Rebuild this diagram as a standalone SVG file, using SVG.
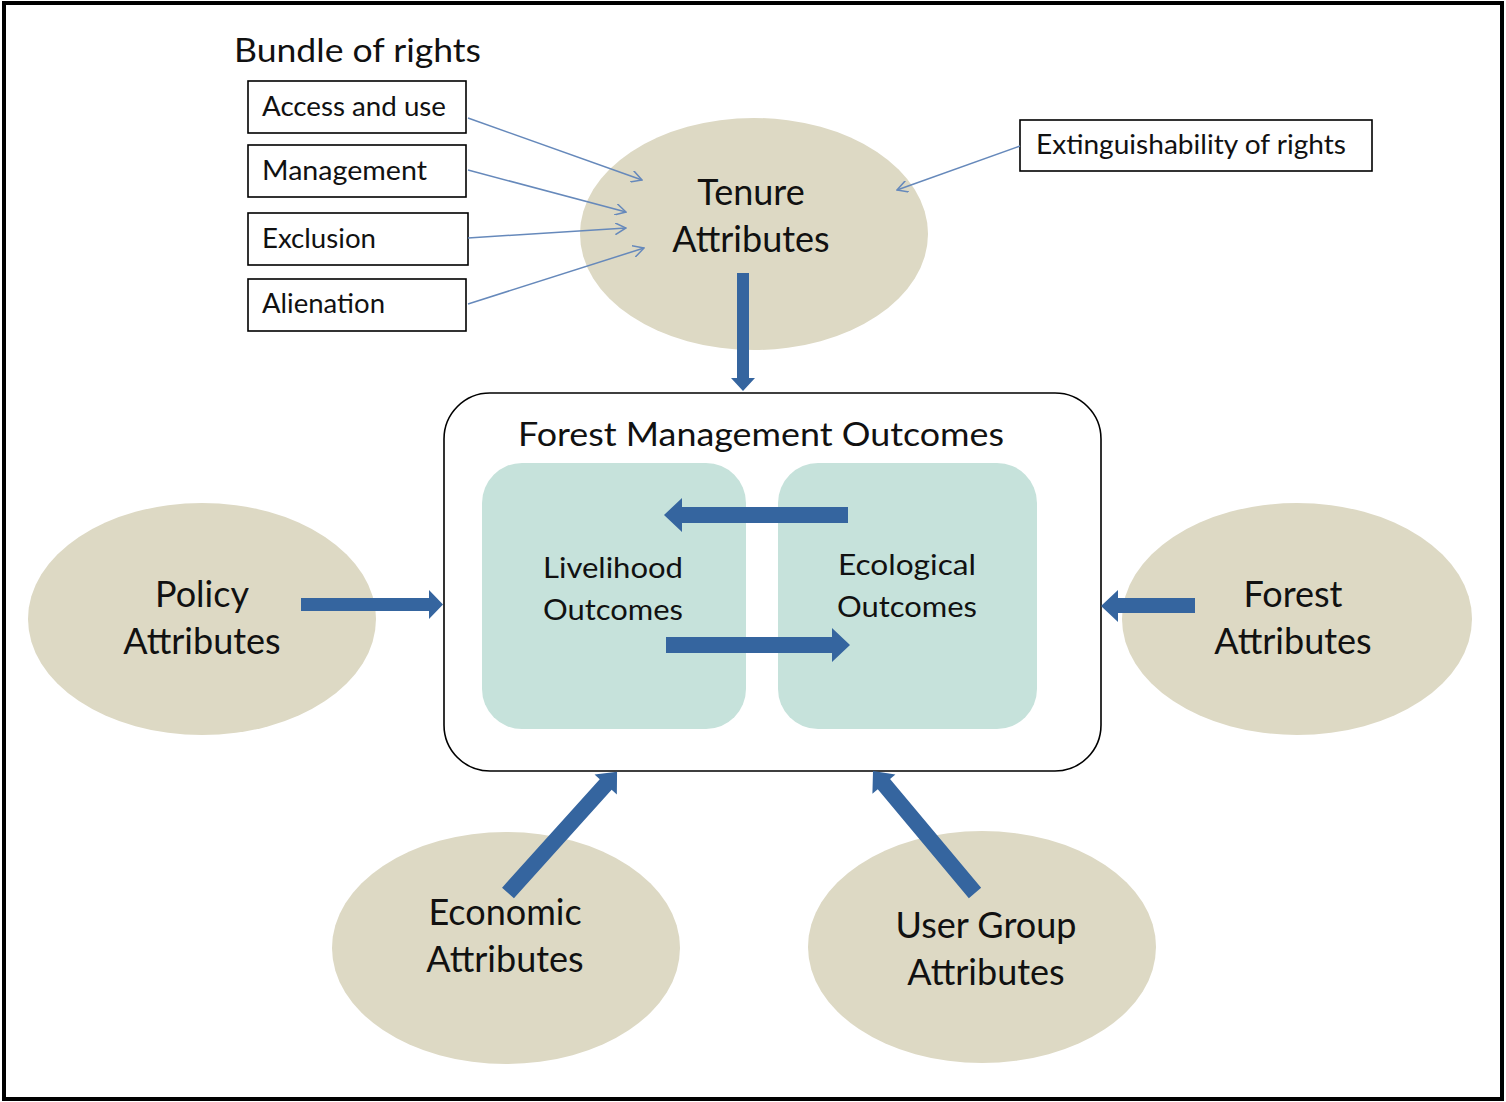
<svg xmlns="http://www.w3.org/2000/svg" width="1506" height="1102" viewBox="0 0 1506 1102">
<style>
text { font-family: Lato, "Open Sans", "Liberation Sans", sans-serif; fill: #111; }
.ell { fill: #ddd9c4; }
.big { font-size: 36px; }
.box { fill: #fff; stroke: #000; stroke-width: 1.6; }
.boxt { font-size: 27px; }
.inner { fill: #c6e2db; }
.mid { font-size: 29px; }
.blk { fill: #35659f; }
.thin { stroke: #6689bb; stroke-width: 1.5; fill: none; marker-end: url(#open); }
</style>
<defs>
<marker id="open" viewBox="0 0 12 12" refX="11" refY="6" markerWidth="12" markerHeight="12" markerUnits="userSpaceOnUse" orient="auto">
<path d="M0,0 L11,6 L0,12" fill="none" stroke="#6689bb" stroke-width="1.5"/>
</marker>
</defs>
<rect x="0" y="0" width="1506" height="1102" fill="#fff"/>
<rect x="4" y="3" width="1498" height="1096" fill="none" stroke="#000" stroke-width="4"/>

<text x="234" y="62" style="font-size:33px" textLength="247" lengthAdjust="spacingAndGlyphs">Bundle of rights</text>

<g id="access"><rect class="box" x="248" y="81" width="218" height="52"/><text class="boxt" x="262" y="116" textLength="184" lengthAdjust="spacingAndGlyphs">Access and use</text></g>
<g id="management"><rect class="box" x="248" y="145" width="218" height="52"/><text class="boxt" x="262" y="180" textLength="165" lengthAdjust="spacingAndGlyphs">Management</text></g>
<g id="exclusion"><rect class="box" x="248" y="213" width="220" height="52"/><text class="boxt" x="262" y="248" textLength="114" lengthAdjust="spacingAndGlyphs">Exclusion</text></g>
<g id="alienation"><rect class="box" x="248" y="279" width="218" height="52"/><text class="boxt" x="262" y="313" textLength="123" lengthAdjust="spacingAndGlyphs">Alienation</text></g>
<g id="extinguish"><rect class="box" x="1020" y="120" width="352" height="51"/><text class="boxt" x="1036" y="154" textLength="310" lengthAdjust="spacingAndGlyphs">Extinguishability of rights</text></g>

<g id="tenure"><ellipse class="ell" cx="754" cy="234" rx="174" ry="116"/>
<text class="big" x="751" y="205" text-anchor="middle">Tenure</text>
<text class="big" x="751" y="252" text-anchor="middle">Attributes</text></g>

<g id="policy"><ellipse class="ell" cx="202" cy="619" rx="174" ry="116"/>
<text class="big" x="202" y="607" text-anchor="middle">Policy</text>
<text class="big" x="202" y="654" text-anchor="middle">Attributes</text></g>

<g id="forest"><ellipse class="ell" cx="1297" cy="619" rx="175" ry="116"/>
<text class="big" x="1293" y="607" text-anchor="middle">Forest</text>
<text class="big" x="1293" y="654" text-anchor="middle">Attributes</text></g>

<g id="economic"><ellipse class="ell" cx="506" cy="948" rx="174" ry="116"/>
<text class="big" x="505" y="925" text-anchor="middle">Economic</text>
<text class="big" x="505" y="972" text-anchor="middle">Attributes</text></g>

<g id="usergroup"><ellipse class="ell" cx="982" cy="947" rx="174" ry="116"/>
<text class="big" x="986" y="938" text-anchor="middle">User Group</text>
<text class="big" x="986" y="985" text-anchor="middle">Attributes</text></g>

<g id="outcomes"><rect x="444" y="393" width="657" height="378" rx="46" fill="#fff" stroke="#000" stroke-width="1.6"/>
<text x="518" y="446" style="font-size:32px" textLength="486" lengthAdjust="spacingAndGlyphs">Forest Management Outcomes</text></g>

<g id="livelihood"><rect class="inner" x="482" y="463" width="264" height="266" rx="40"/>
<text class="mid" x="543" y="578" textLength="140" lengthAdjust="spacingAndGlyphs">Livelihood</text>
<text class="mid" x="543" y="620" textLength="140" lengthAdjust="spacingAndGlyphs">Outcomes</text></g>

<g id="ecological"><rect class="inner" x="778" y="463" width="259" height="266" rx="40"/>
<text class="mid" x="838" y="575" textLength="138" lengthAdjust="spacingAndGlyphs">Ecological</text>
<text class="mid" x="837" y="617" textLength="140" lengthAdjust="spacingAndGlyphs">Outcomes</text></g>

<g id="connectors">
<line class="thin" x1="468" y1="118" x2="642" y2="180"/>
<line class="thin" x1="468" y1="170" x2="626" y2="212"/>
<line class="thin" x1="468" y1="238" x2="626" y2="228"/>
<line class="thin" x1="468" y1="304" x2="644" y2="248"/>
<line class="thin" x1="1020" y1="146" x2="897" y2="190"/>

<polygon class="blk" points="737,273 749,273 749,378 755,378 743,391 731,378 737,378"/>
<polygon class="blk" points="301,598 429,598 429,590 443,604.5 429,619 429,611 301,611"/>
<polygon class="blk" points="1195,598 1118,598 1118,590 1101,606 1118,622 1118,613 1195,613"/>
<polygon class="blk" points="848,507 682,507 682,498 664,515 682,532 682,523 848,523"/>
<polygon class="blk" points="666,637 832,637 832,628 850,645 832,662 832,653 666,653"/>
<g transform="translate(508,893) rotate(-48)"><polygon class="blk" points="0,-8 146,-8 146,-15 163,0 146,15 146,8 0,8"/></g>
<g transform="translate(975,893) rotate(-129.9)"><polygon class="blk" points="0,-8 142,-8 142,-15 159,0 142,15 142,8 0,8"/></g>
</g>
</svg>
